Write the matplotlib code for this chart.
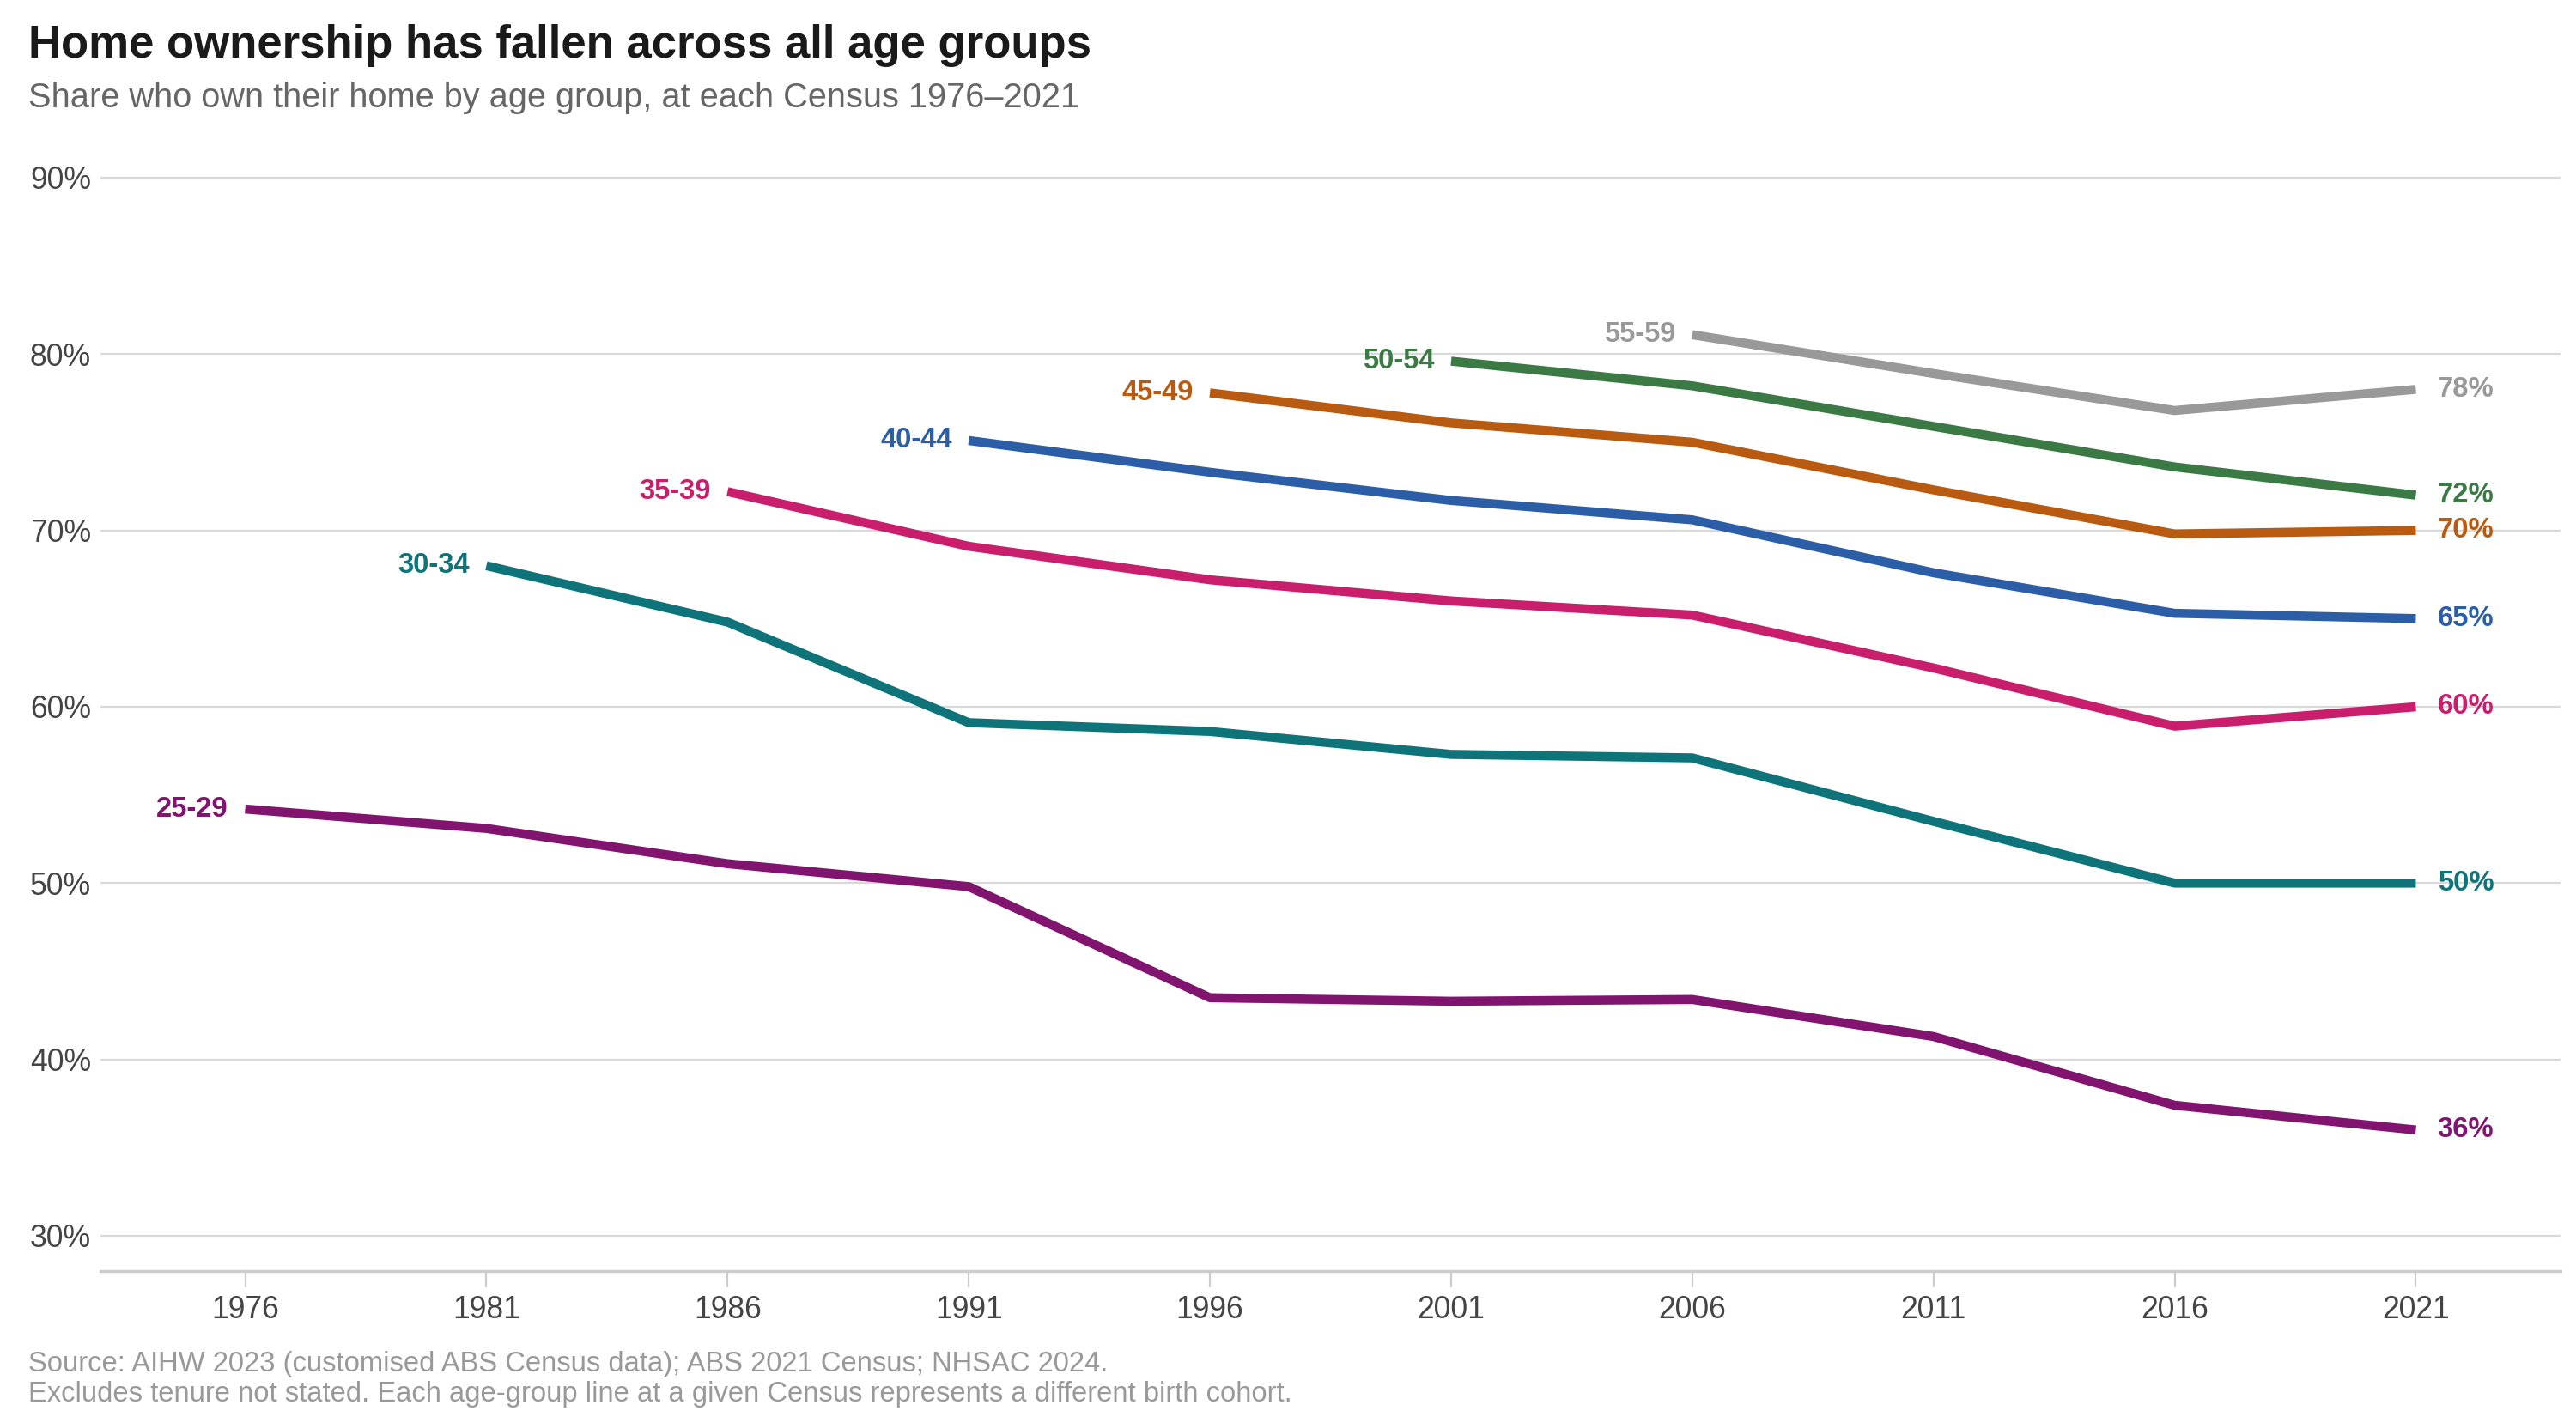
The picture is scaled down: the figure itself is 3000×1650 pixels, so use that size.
import matplotlib.pyplot as plt
from matplotlib.ticker import FuncFormatter

plt.rcParams['font.family'] = ['Liberation Sans', 'DejaVu Sans']

years = [1976, 1981, 1986, 1991, 1996, 2001, 2006, 2011, 2016, 2021]

# each age group starts at a later Census
age_25_29 = [54.2, 53.1, 51.1, 49.8, 43.5, 43.3, 43.4, 41.3, 37.4, 36.0]
age_30_34 = [68.0, 64.8, 59.1, 58.6, 57.3, 57.1, 53.5, 50.0, 50.0]
age_35_39 = [72.2, 69.1, 67.2, 66.0, 65.2, 62.2, 58.9, 60.0]
age_40_44 = [75.1, 73.3, 71.7, 70.6, 67.6, 65.3, 65.0]
age_45_49 = [77.8, 76.1, 75.0, 72.3, 69.8, 70.0]
age_50_54 = [79.6, 78.2, 75.9, 73.6, 72.0]
age_55_59 = [81.1, 78.9, 76.8, 78.0]

groups = ["25-29", "30-34", "35-39", "40-44", "45-49", "50-54", "55-59"]
series = [age_25_29, age_30_34, age_35_39, age_40_44, age_45_49, age_50_54, age_55_59]
colors = ["#80146E", "#0E7479", "#C81E6C", "#2B5EA7", "#B85A10", "#3B7A44", "#999999"]

fig = plt.figure(figsize=(15, 8.25), dpi=200)
ax = fig.add_axes([0.039, 0.103, 0.955, 0.784])

for name, vals, c in zip(groups, series, colors):
    xs = years[len(years) - len(vals):]
    ax.plot(xs, vals, color=c, lw=3.8, solid_capstyle='butt', zorder=3)
    ax.text(xs[0] - 0.35, vals[0], name, color=c, fontsize=11.8, fontweight='bold',
            ha='right', va='center')
    ax.text(xs[-1] + 0.45, vals[-1], f"{vals[-1]:.0f}%", color=c, fontsize=11.8,
            fontweight='bold', ha='left', va='center')

ax.set_xlim(1973, 2024)
ax.set_ylim(28, 91)
ax.set_xticks(years)
ax.set_yticks(range(30, 91, 10))
ax.yaxis.set_major_formatter(FuncFormatter(lambda v, p: f"{v:.0f}%"))
ax.grid(axis='y', color='#d9d9d9', lw=0.8)
ax.set_axisbelow(True)
for s in ['top', 'right', 'left']:
    ax.spines[s].set_visible(False)
ax.spines['bottom'].set_color('#cccccc')
ax.spines['bottom'].set_linewidth(1.2)
ax.tick_params(axis='y', length=0, labelsize=12.8, labelcolor='#444444', pad=4)
ax.tick_params(axis='x', length=7, color='#cccccc', labelsize=12.8,
               labelcolor='#444444', pad=3)

fig.text(0.011, 0.968, "Home ownership has fallen across all age groups",
         fontsize=19, fontweight='bold', color='#1a1a1a', va='center')
fig.text(0.011, 0.931, "Share who own their home by age group, at each Census 1976\u20132021",
         fontsize=14.3, color='#666666', va='center')
fig.text(0.011, 0.037, "Source: AIHW 2023 (customised ABS Census data); ABS 2021 Census; NHSAC 2024.",
         fontsize=11.8, color='#999999', va='center')
fig.text(0.011, 0.016, "Excludes tenure not stated. Each age-group line at a given Census represents a different birth cohort.",
         fontsize=11.8, color='#999999', va='center')

fig.savefig("out.png", dpi=200, facecolor='white')
